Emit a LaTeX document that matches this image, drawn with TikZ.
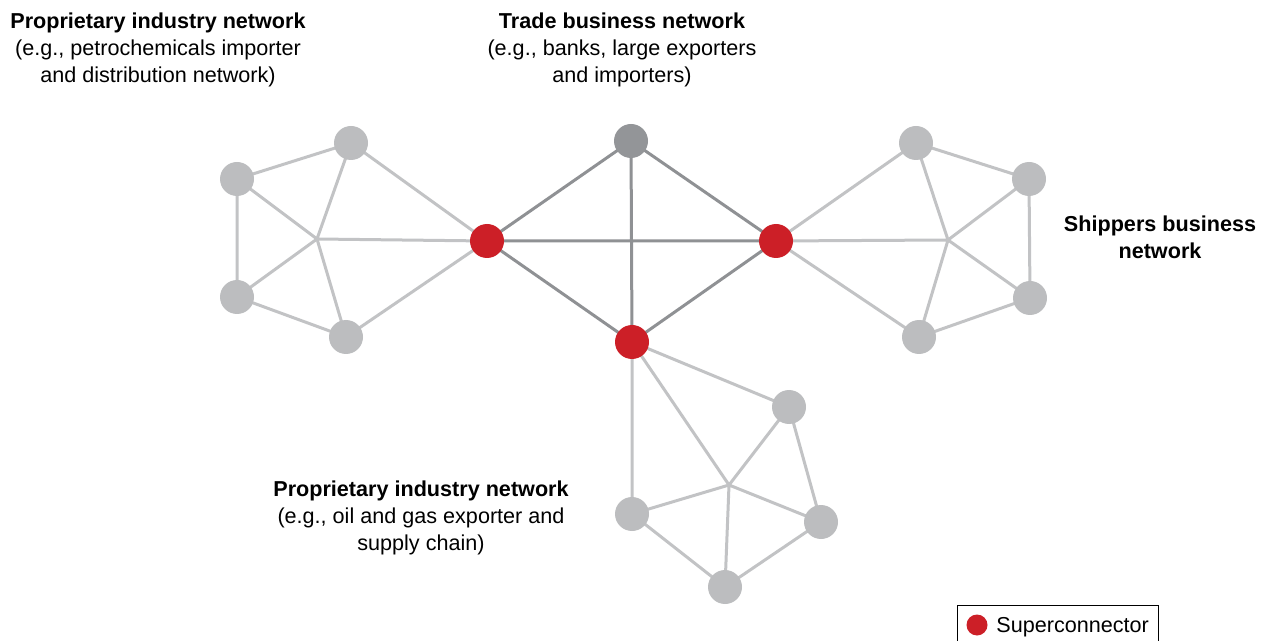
\documentclass[tikz,border=0pt]{standalone}
\usepackage{fontspec}
\setmainfont{Liberation Sans}
\usetikzlibrary{backgrounds}
\definecolor{nodegray}{HTML}{BCBDBF}
\definecolor{edgegray}{HTML}{C2C3C5}
\definecolor{darkgray2}{HTML}{939598}
\definecolor{darkedge}{HTML}{8F9194}
\definecolor{superred}{HTML}{CC1F27}
\begin{document}
\begin{tikzpicture}[x=0.5pt,y=-0.5pt,
  gnode/.style={circle,fill=nodegray,inner sep=0pt,minimum size=17pt},
  rnode/.style={circle,fill=superred,inner sep=0pt,minimum size=17pt},
  tnode/.style={circle,fill=darkgray2,inner sep=0pt,minimum size=17pt},
  ledge/.style={draw=edgegray,line width=1.5pt},
  dedge/.style={draw=darkedge,line width=1.5pt},
  title/.style={align=center,font=\fontsize{10.8pt}{13.5pt}\selectfont,inner sep=0pt},
  legendbox/.style={draw=black,line width=0.5pt}]
\useasboundingbox (0,0) rectangle (1268,641);
% hub points
\coordinate (hL) at (317,239);
\coordinate (hR) at (948,240);
\coordinate (hC) at (729,485);
% nodes
\path (237,179) node[gnode] (A1) {}
      (351,143) node[gnode] (A2) {}
      (237,297) node[gnode] (A3) {}
      (346,337) node[gnode] (A4) {}
      (916,143) node[gnode] (B1) {}
      (1029,179) node[gnode] (B2) {}
      (1030,298) node[gnode] (B3) {}
      (919,337) node[gnode] (B4) {}
      (789,407) node[gnode] (C1) {}
      (821,522) node[gnode] (C2) {}
      (725,587) node[gnode] (C3) {}
      (632,514) node[gnode] (C4) {};
\path (487,241) node[rnode] (R1) {}
      (776,241) node[rnode] (R2) {}
      (632,342) node[rnode] (R3) {}
      (631,141) node[tnode] (T) {};
\begin{scope}[on background layer]
% light edges
\draw[ledge] (A1.center) -- (A2.center) (A1.center) -- (A3.center) (A3.center) -- (A4.center)
  (A2.center) -- (R1.center) (A4.center) -- (R1.center)
  (hL) -- (A1.center) (hL) -- (A2.center) (hL) -- (A3.center) (hL) -- (A4.center) (hL) -- (R1.center);
\draw[ledge] (R2.center) -- (B1.center) (R2.center) -- (B4.center) (B1.center) -- (B2.center)
  (B2.center) -- (B3.center) (B3.center) -- (B4.center)
  (hR) -- (R2.center) (hR) -- (B1.center) (hR) -- (B2.center) (hR) -- (B3.center) (hR) -- (B4.center);
\draw[ledge] (R3.center) -- (C1.center) (R3.center) -- (C4.center) (C1.center) -- (C2.center)
  (C2.center) -- (C3.center) (C3.center) -- (C4.center)
  (hC) -- (R3.center) (hC) -- (C1.center) (hC) -- (C2.center) (hC) -- (C3.center) (hC) -- (C4.center);
% dark edges
\draw[dedge] (T.center) -- (R1.center) (T.center) -- (R2.center) (T.center) -- (R3.center)
  (R1.center) -- (R2.center) (R1.center) -- (R3.center) (R2.center) -- (R3.center);
\end{scope}
% titles
\node[title] (t1) at (158,50) {\textbf{Proprietary industry network}\\(e.g., petrochemicals importer\\and distribution network)};
\node[title] (t2) at (622,50) {\textbf{Trade business network}\\(e.g., banks, large exporters\\and importers)};
\node[title] (t3) at (1160,237) {\textbf{Shippers business}\\\textbf{network}};
\node[title] (t4) at (421,518) {\textbf{Proprietary industry network}\\(e.g., oil and gas exporter and\\supply chain)};
% legend
\draw[legendbox] (957,605) rectangle (1158,660);
\node[circle,fill=superred,inner sep=0pt,minimum size=10.5pt] (lg) at (977,625) {};
\node[title,anchor=west] (lt) at (996,627) {Superconnector};
\end{tikzpicture}
\end{document}
